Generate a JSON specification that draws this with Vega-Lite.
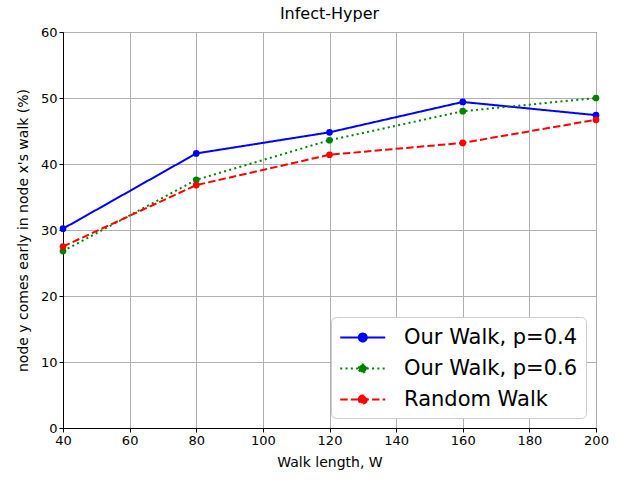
{
  "$schema": "https://vega.github.io/schema/vega-lite/v6.json",
  "width": 533,
  "height": 396,
  "autosize": {"type": "none"},
  "padding": {"left": 63, "top": 32, "right": 25, "bottom": 51},
  "background": "white",
  "title": {"text": "Infect-Hyper", "font": "DejaVu Sans", "fontSize": 16, "fontWeight": "normal", "offset": 4, "color": "black"},
  "config": {
    "view": {"stroke": "black", "strokeWidth": 1},
    "axis": {"labelFont": "DejaVu Sans", "titleFont": "DejaVu Sans", "labelFontSize": 13, "titleFontSize": 14, "titleFontWeight": "normal", "labelColor": "black", "titleColor": "black", "domainColor": "black", "tickColor": "black", "gridColor": "#b0b0b0", "gridOpacity": 1, "gridWidth": 1, "tickSize": 4, "labelFlush": false}
  },
  "data": {"values": [
    {"W": 40, "v": 30.2, "s": "Our Walk, p=0.4"},
    {"W": 80, "v": 41.6, "s": "Our Walk, p=0.4"},
    {"W": 120, "v": 44.8, "s": "Our Walk, p=0.4"},
    {"W": 160, "v": 49.4, "s": "Our Walk, p=0.4"},
    {"W": 200, "v": 47.4, "s": "Our Walk, p=0.4"},
    {"W": 40, "v": 26.8, "s": "Our Walk, p=0.6"},
    {"W": 80, "v": 37.6, "s": "Our Walk, p=0.6"},
    {"W": 120, "v": 43.6, "s": "Our Walk, p=0.6"},
    {"W": 160, "v": 48.0, "s": "Our Walk, p=0.6"},
    {"W": 200, "v": 50.0, "s": "Our Walk, p=0.6"},
    {"W": 40, "v": 27.5, "s": "Random Walk"},
    {"W": 80, "v": 36.8, "s": "Random Walk"},
    {"W": 120, "v": 41.4, "s": "Random Walk"},
    {"W": 160, "v": 43.2, "s": "Random Walk"},
    {"W": 200, "v": 46.7, "s": "Random Walk"}
  ]},
  "mark": {"type": "line", "strokeWidth": 2, "point": {"filled": true, "size": 45}, "clip": false},
  "encoding": {
    "x": {"field": "W", "type": "quantitative", "scale": {"domain": [40, 200], "nice": false, "zero": false}, "axis": {"values": [40, 60, 80, 100, 120, 140, 160, 180, 200], "title": "Walk length, W", "titlePadding": 8}},
    "y": {"field": "v", "type": "quantitative", "scale": {"domain": [0, 60], "nice": false}, "axis": {"values": [0, 10, 20, 30, 40, 50, 60], "title": "node y comes early in node x's walk (%)", "titlePadding": 10}},
    "color": {"field": "s", "type": "nominal", "scale": {"domain": ["Our Walk, p=0.4", "Our Walk, p=0.6", "Random Walk"], "range": ["#0000ff", "#008000", "#ff0000"]}, "legend": {"title": null, "orient": "bottom-right", "offset": 10, "labelFont": "DejaVu Sans", "labelFontSize": 21, "labelColor": "black", "labelLimit": 0, "symbolType": "M-1,0L3,0M0.645,0A0.355,0.355,0,1,1,1.355,0A0.355,0.355,0,1,1,0.645,0Z", "symbolSize": 506, "symbolStrokeWidth": 2, "fillColor": "white", "strokeColor": "#cccccc", "padding": 8, "rowPadding": 8, "labelOffset": 40, "cornerRadius": 5, "encode": {"symbols": {"update": {"fill": {"scale": "color", "field": "value"}, "strokeDash": {"scale": "strokeDash", "field": "value"}}}}}},
    "strokeDash": {"field": "s", "type": "nominal", "scale": {"domain": ["Our Walk, p=0.4", "Our Walk, p=0.6", "Random Walk"], "range": [[1, 0], [2, 3.3], [7.4, 3.2]]}, "legend": null}
  }
}
